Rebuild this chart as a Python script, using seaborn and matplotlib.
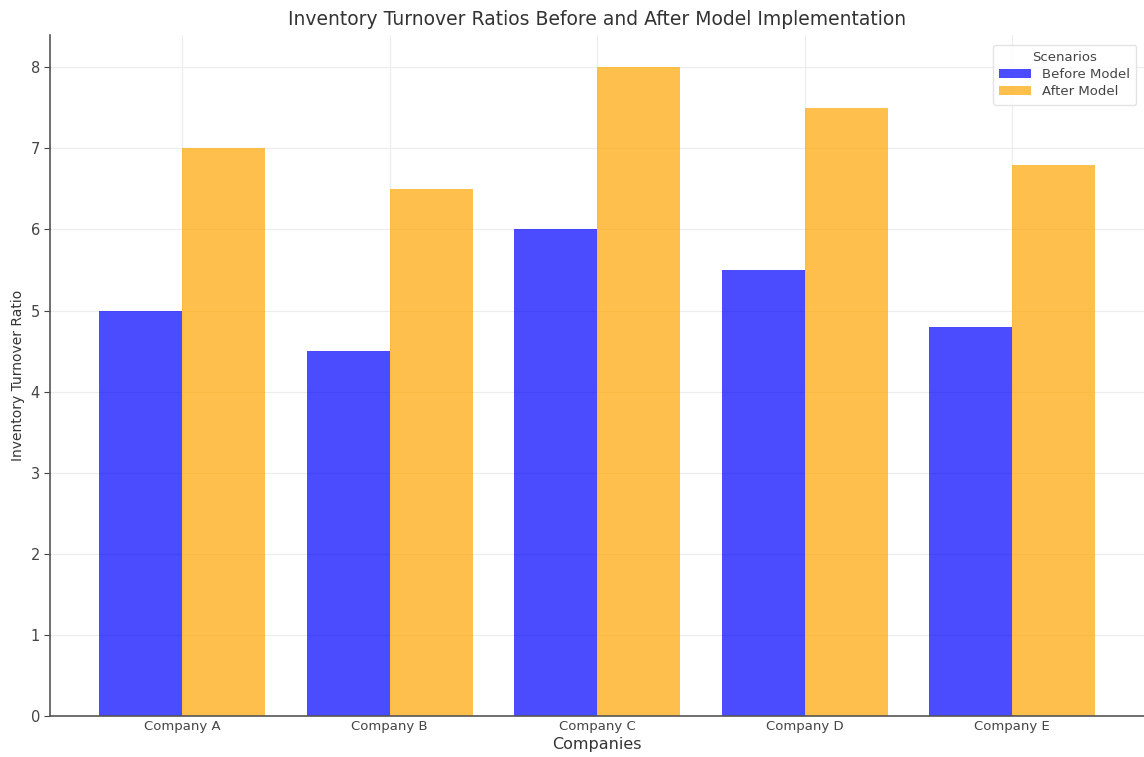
import matplotlib
matplotlib.use("Agg")
import matplotlib.pyplot as plt
import seaborn as sns
import pandas as pd

companies = ["Company A", "Company B", "Company C", "Company D", "Company E"]
before_model = [5.0, 4.5, 6.0, 5.5, 4.8]
after_model = [7.0, 6.5, 8.0, 7.5, 6.8]
scenarios = ["Before Model", "After Model"]

df = pd.DataFrame({
    "Company": companies * 2,
    "Ratio": before_model + after_model,
    "Scenario": [scenarios[0]] * len(companies) + [scenarios[1]] * len(companies),
})

sns.set_style("white")
plt.rcParams["font.family"] = ["DejaVu Sans"]

fig, ax = plt.subplots(figsize=(11.44, 7.57), dpi=100)
sns.barplot(data=df, x="Company", y="Ratio", hue="Scenario",
            palette=["blue", "orange"], alpha=0.7, saturation=1,
            width=0.8, gap=0, linewidth=0, errorbar=None, ax=ax)

ax.set_xlim(-0.635, 4.635)
ax.set_title("Inventory Turnover Ratios Before and After Model Implementation",
             fontsize=13.5, color="#333333", pad=7)
ax.set_xlabel("Companies", fontsize=11.5, color="#333333", labelpad=3)
ax.set_ylabel("Inventory Turnover Ratio", fontsize=10, color="#333333")
ax.tick_params(axis="x", labelsize=9.5, colors="#444444", length=0, pad=3)
ax.tick_params(axis="y", labelsize=10.5, colors="#444444", length=4, left=True)
ax.grid(True, color="#ececec", linewidth=0.8)
ax.set_axisbelow(True)
for s in ["top", "right"]:
    ax.spines[s].set_visible(False)
for s in ["left", "bottom"]:
    ax.spines[s].set_color("#555555")
    ax.spines[s].set_linewidth(1.2)

leg = ax.legend(title="Scenarios", fontsize=9.5, title_fontsize=9.5, loc="upper right",
                frameon=True, handlelength=2.4, borderpad=0.5, labelspacing=0.3,
                bbox_to_anchor=(0.999, 0.995))
leg.get_frame().set_edgecolor("#dddddd")
for t in leg.get_texts():
    t.set_color("#444444")
leg.get_title().set_color("#444444")

fig.subplots_adjust(left=0.044, right=1.0, top=0.954, bottom=0.054)
fig.savefig("out.png", dpi=100)
